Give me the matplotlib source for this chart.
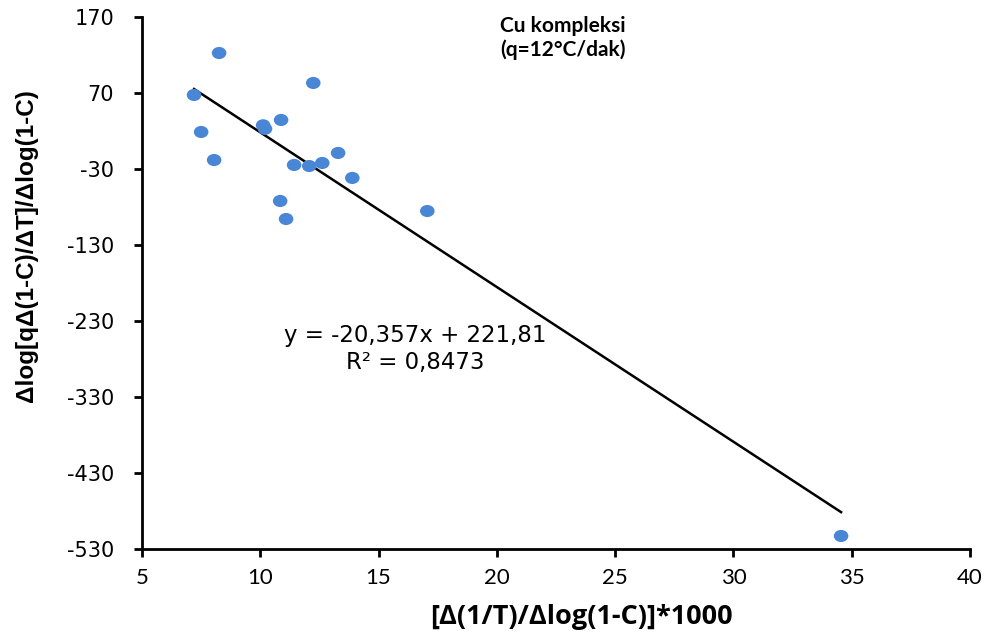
import matplotlib

matplotlib.use("Agg")

import matplotlib.pyplot as plt
import numpy as np
from matplotlib import font_manager
from matplotlib.path import Path
from matplotlib.transforms import Affine2D

# measured points
x_vals = [8.26, 7.20, 12.24, 7.50, 10.12, 10.20, 10.88, 8.05, 11.43, 12.07,
          12.62, 13.29, 13.89, 10.84, 11.09, 17.06, 34.55]
y_vals = [122.6, 67.4, 83.2, 18.7, 27.5, 22.8, 34.5, -18.2, -24.7, -26.1,
          -22.1, -8.9, -41.8, -72.1, -95.8, -85.3, -512.9]

slope = -20.357
intercept = 221.81
r_squared = 0.8473

x_ticks = [5, 10, 15, 20, 25, 30, 35, 40]
y_ticks = [170, 70, -30, -130, -230, -330, -430, -530]

plt.rcParams["font.family"] = ["Lato", "DejaVu Sans"]
plt.rcParams["axes.unicode_minus"] = False

installed = {f.name for f in font_manager.fontManager.ttflist}
narrow = "Liberation Sans Narrow" if "Liberation Sans Narrow" in installed else "Liberation Sans"

fig = plt.figure(figsize=(9.95, 6.34), dpi=100)
ax = fig.add_axes([0.1427, 0.1341, 0.8322, 0.8391])

# slightly wide ellipse marker
oval = Path.unit_circle().transformed(Affine2D().scale(1.2, 1.0))
ax.scatter(x_vals, y_vals, s=110, marker=oval, color="#4a86d6",
           edgecolors="none", zorder=3)

fit_x = np.array([min(x_vals), max(x_vals)])
ax.plot(fit_x, slope * fit_x + intercept, color="black", linewidth=1.8, zorder=2)

eq_text = f"y = {slope:.3f}x + {intercept:.2f}".replace(".", ",")
ax.text(16.57, -249, eq_text, fontsize=16.5, ha="center", va="center",
        family="DejaVu Sans")
ax.text(16.57, -284, f"R² = {r_squared:.4f}".replace(".", ","),
        fontsize=16.5, ha="center", va="center", family="DejaVu Sans")

ax.set_xlim(5, 40)
ax.set_ylim(-530, 170)
ax.set_xticks(x_ticks)
ax.set_yticks(y_ticks)
ax.tick_params(direction="out", length=6, width=2)
ax.tick_params(axis="x", labelsize=16, pad=8)
ax.tick_params(axis="y", labelsize=15, pad=14)
for lbl in ax.get_yticklabels():
    lbl.set_family("DejaVu Sans")

for side in ("top", "right"):
    ax.spines[side].set_visible(False)
for side in ("left", "bottom"):
    ax.spines[side].set_linewidth(2)

ax.set_xlabel("[Δ(1/T)/Δlog(1-C)]*1000", fontsize=19.5, fontweight="bold",
              family=["Open Sans", "DejaVu Sans"])
ax.xaxis.set_label_coords(0.531, -0.104)
ax.set_ylabel("Δlog[qΔ(1-C)/ΔT]/Δlog(1-C)", fontsize=17.5,
              fontweight="bold", family=[narrow, "DejaVu Sans"])
ax.yaxis.set_label_coords(-0.125, 0.571)

fig.text(0.566, 0.975, "Cu kompleksi\n(q=12°C/dak)", fontsize=15,
         fontweight="bold", ha="center", va="top", multialignment="center",
         linespacing=1.2)

fig.savefig("out.png", dpi=100)
